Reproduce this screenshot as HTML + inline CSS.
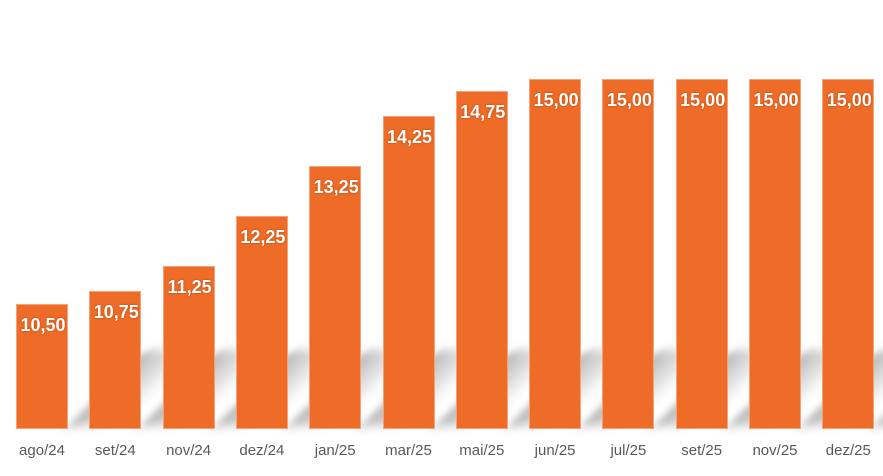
<!DOCTYPE html>
<html><head><style>
body{margin:0;width:883px;height:476px;background:#fff;overflow:hidden;position:relative;font-family:"Liberation Sans",sans-serif}
.b{position:absolute;width:52px;background:#EE6C27;border:1px solid #F4A27A;box-sizing:border-box;bottom:47px}
.v{position:absolute;width:64px;margin-left:-6px;text-align:center;color:#fff;font-weight:bold;font-size:18px;top:10px;text-shadow:0 0 2px #b0460f}
.l{position:absolute;top:442px;width:80px;margin-left:-14px;text-align:center;color:#595959;font-size:15px}
.s{position:absolute;width:55px;height:75px;bottom:50px;background:linear-gradient(to right,rgba(140,140,140,.65),rgba(200,200,200,0));transform:skewX(-45deg);transform-origin:bottom left;filter:blur(5px)}
</style></head><body>
<div id="c"></div>
<script>
var v=[10.5,10.75,11.25,12.25,13.25,14.25,14.75,15,15,15,15,15];
var c=["ago/24","set/24","nov/24","dez/24","jan/25","mar/25","mai/25","jun/25","jul/25","set/25","nov/25","dez/25"];
var h="";
for(var i=0;i<12;i++){var x=16+i*73.3;
h+='<div class="s" style="left:'+(x+52)+'px"></div>';}
for(var i=0;i<12;i++){var x=16+i*73.3;var t=78.5+(15-v[i])*50;var hh=429-t;
h+='<div class="b" style="left:'+x+'px;height:'+hh+'px"><div class="v">'+v[i].toFixed(2).replace(".",",")+'</div></div>';
h+='<div class="l" style="left:'+x+'px">'+c[i]+'</div>';}
document.getElementById("c").innerHTML=h;
</script>
</body></html>
